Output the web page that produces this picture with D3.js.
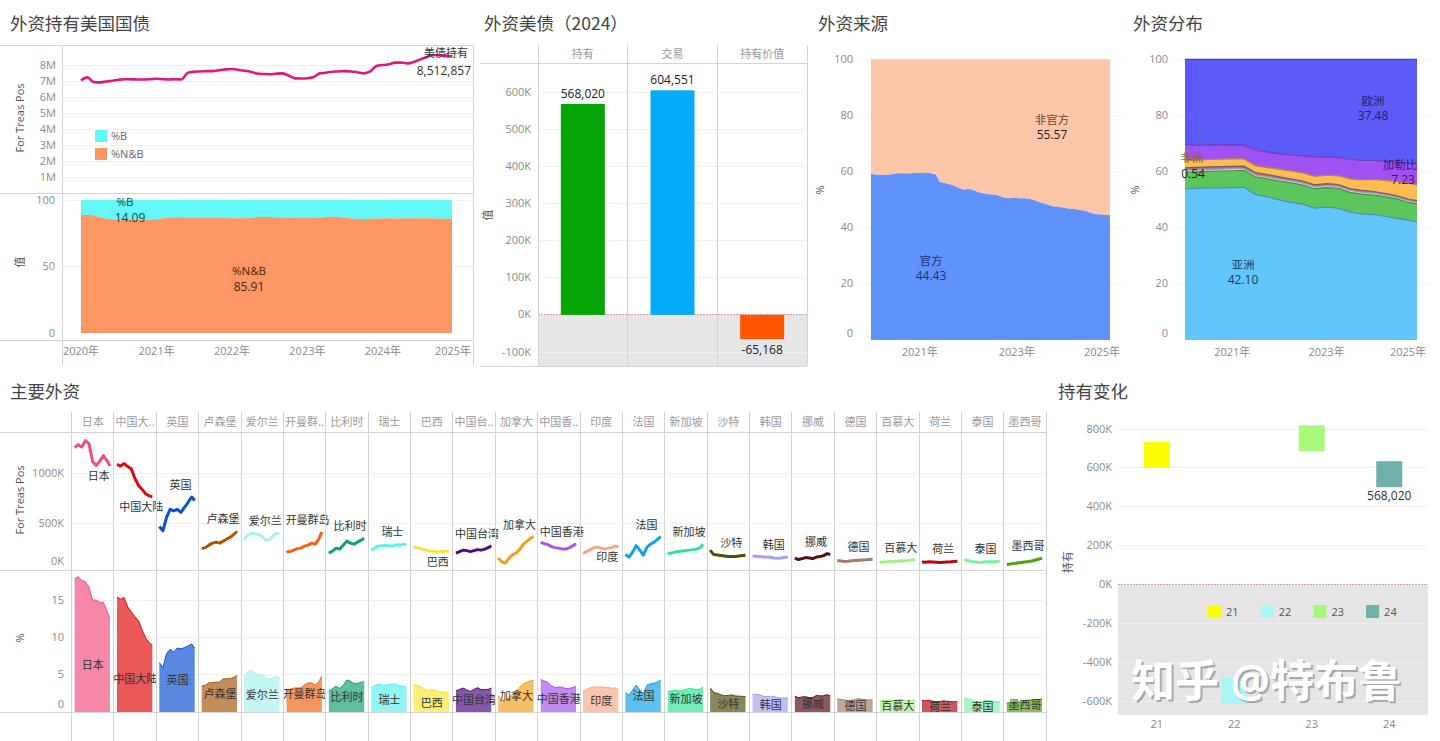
<!DOCTYPE html>
<html lang="zh">
<head>
<meta charset="utf-8">
<title>外资持有美国国债</title>
<script src="https://cdnjs.cloudflare.com/ajax/libs/d3/7.8.5/d3.min.js"></script>
<style>
  body { margin: 0; background: #fff; }
  svg text { font-family: "Open Sans", "Noto Sans CJK SC", sans-serif; }
  .ttl { font-family: "Noto Sans CJK SC", sans-serif; font-size: 17.5px; fill: #444; }
  .tk { font-size: 11px; fill: #8a8a8a; }
  .hdr { font-family: "Noto Sans CJK SC", sans-serif; font-size: 11px; fill: #9a9a9a; }
  .ax { font-size: 11px; fill: #555; }
  .lbl { font-size: 11.5px; fill: #333; }
  .cn { font-family: "Noto Sans CJK SC", sans-serif; font-size: 11px; }
</style>
</head>
<body>
<svg id="dash" width="1440" height="741"></svg>
<script>
// ---------------- data ----------------
const parse = d3.timeParse('%Y-%m');
const months = d3.timeMonth.range(new Date(2020, 0, 1), new Date(2025, 0, 1)); // 2020-01 .. 2024-12

// 外资持有美国国债, M (monthly)
const totalHoldings = [
  7.04, 7.23, 6.95, 6.92, 6.98, 7.02, 7.08, 7.12, 7.11, 7.10, 7.10, 7.12,
  7.15, 7.12, 7.10, 7.12, 7.10, 7.52, 7.58, 7.60, 7.62, 7.62, 7.68, 7.73,
  7.75, 7.70, 7.65, 7.58, 7.47, 7.44, 7.43, 7.46, 7.48, 7.35, 7.17, 7.16,
  7.18, 7.25, 7.48, 7.52, 7.58, 7.60, 7.62, 7.60, 7.55, 7.48, 7.60, 7.94,
  8.00, 8.05, 8.15, 8.15, 8.10, 8.20, 8.35, 8.50, 8.62, 8.60, 8.58, 8.512857
];
// %N&B share (monthly), %B = 100 - %N&B
const pctNB = [
  88.8, 89.0, 88.5, 87.0, 86.0, 85.5, 85.3, 85.2, 85.2, 85.3, 85.2, 85.4,
  85.3, 86.2, 86.8, 86.9, 87.0, 86.9, 86.8, 86.9, 86.7, 86.5, 86.4, 86.4,
  86.3, 86.2, 86.3, 86.6, 87.2, 87.4, 87.2, 86.9, 86.8, 86.7, 86.6, 86.5,
  86.5, 86.6, 86.8, 87.3, 87.5, 87.2, 86.6, 86.0, 85.8, 85.8, 85.9, 86.0,
  86.1, 86.2, 86.0, 86.1, 86.2, 86.3, 86.3, 86.2, 86.1, 86.0, 85.9, 85.91
];

// 外资美债（2024）
const flowCategories = ['持有', '交易', '持有价值'];
const flowValues = [568020, 604551, -65168];

// 外资来源: 官方 share (monthly), 非官方 = 100 - 官方
const officialPct = [
  59.1, 59.0, 58.9, 58.8, 58.8, 59.0, 59.2, 59.4, 59.4, 59.3, 59.4, 59.5,
  59.5, 59.6, 59.6, 59.2, 59.0, 56.3, 56.0, 55.6, 55.3, 54.6, 54.0, 53.5,
  53.8, 53.5, 53.0, 52.5, 52.2, 51.9, 51.8, 51.7, 51.2, 50.7, 50.5, 50.6,
  50.6, 50.4, 50.5, 50.3, 50.0, 49.4, 48.9, 48.5, 48.0, 47.6, 47.5, 47.3,
  47.0, 46.8, 46.7, 46.5, 46.2, 46.0, 45.4, 45.0, 44.8, 44.6, 44.5, 44.43
];

// 外资分布 (quarterly shares, %)
const distDates = ['2020-01','2020-04','2020-07','2020-10','2021-01','2021-04','2021-07','2021-10',
  '2022-01','2022-04','2022-07','2022-10','2023-01','2023-04','2023-07','2023-10',
  '2024-01','2024-04','2024-07','2024-10','2024-12'];
const distRegions = ['亚洲', '中东', '国际组织', '非洲', '拉美', '加勒比', '欧洲'];
const distAsia = [53.8,54.0,54.2,54.2,54.3,54.4,51.8,51.0,49.9,49.0,48.4,47.0,47.3,47.0,45.5,44.9,44.7,44.0,43.3,42.6,42.10];
const distMideast = [5.9,5.9,5.9,6.0,6.0,6.0,6.3,6.4,6.7,7.0,6.8,6.9,7.0,7.0,7.1,7.1,6.9,7.0,6.9,6.4,6.4];
const distIntl = [0.7,0.7,0.7,0.7,0.7,0.7,0.7,0.7,0.7,0.7,0.7,0.7,0.7,0.7,0.7,0.7,0.7,0.6,0.6,0.6,0.6];
const distAfrica = [0.9,0.9,0.9,0.9,0.85,0.85,0.8,0.8,0.8,0.75,0.75,0.7,0.7,0.7,0.65,0.65,0.6,0.6,0.6,0.55,0.54];
const distLatam = [2.6,2.6,2.6,2.6,2.65,2.55,2.4,2.5,2.7,2.75,2.85,3.0,3.0,3.1,3.45,3.65,4.3,4.6,5.0,5.65,5.65];
const distCaribbean = [5.8,5.2,5.2,5.0,5.0,4.9,5.6,5.6,5.5,5.7,6.1,6.9,6.6,6.5,7.0,7.0,6.8,6.9,6.9,7.1,7.23];
const distEurope = [30.3,30.7,30.5,30.6,30.5,30.6,32.4,33.0,33.7,34.1,34.4,34.8,34.7,35.0,35.6,36.0,36.0,36.3,36.7,37.1,37.48];

// 主要外资 (semi-annual, K)
const holdDates = ['2020-01','2020-07','2021-01','2021-07','2022-01','2022-07','2023-01','2023-07','2024-01','2024-07','2024-12'];
const countryNames = ['日本','中国大陆','英国','卢森堡','爱尔兰','开曼群岛','比利时','瑞士','巴西','中国台湾','加拿大',
  '中国香港','印度','法国','新加坡','沙特','韩国','挪威','德国','百慕大','荷兰','泰国','墨西哥'];
const countryHoldings = [
  [1260,1290,1265,1330,1300,1120,1080,1125,1180,1130,1075],
  [1091,1075,1100,1070,1045,950,880,840,795,775,765],
  [468,424,560,640,624,640,610,660,711,764,729],
  [245,255,280,300,310,300,320,340,360,390,420],
  [335,380,400,395,390,370,330,335,370,400,395],
  [210,215,230,245,250,270,280,300,290,340,410],
  [200,220,250,240,280,320,300,290,310,330,350],
  [230,250,270,275,280,275,270,285,280,290,285],
  [265,255,245,235,225,220,215,210,215,220,215],
  [200,215,230,225,215,225,235,230,240,255,275],
  [150,110,100,150,185,200,240,290,320,350,365],
  [308,295,285,265,255,250,240,240,255,275,295],
  [195,215,235,255,260,250,240,250,255,270,262],
  [185,160,210,275,230,180,260,290,310,340,365],
  [195,200,210,215,220,225,230,235,240,255,290],
  [230,185,180,175,170,165,165,165,170,175,178],
  [170,168,165,160,160,158,150,148,150,158,160],
  [150,135,145,155,150,145,160,165,175,195,185],
  [125,120,115,118,122,125,128,130,132,135,138],
  [105,110,112,115,118,118,120,122,125,130,135],
  [110,108,112,110,108,105,108,110,112,115,118],
  [135,125,115,110,105,108,112,115,112,115,118],
  [85,90,95,100,105,110,115,120,130,140,150]
];

// 持有变化
const changeYears = ['21', '22', '23', '24'];
const changeValues = [668000, -545000, 752000, 568020];

// ---------------- styles ----------------
const countryColors = ['#f0507c','#e00a0a','#0a50d2','#a8560e','#a8f2f2','#f26414','#12a172','#5ff0f0','#f4e63a','#4e0a80','#f0a21c',
  '#a456e6','#f8a888','#12a2e6','#2ee494','#4e4e0e','#a2a2f2','#5e0a14','#a07e70','#a0f282','#b00a14','#7ef0a2','#4ea212'];
const distColors = ['#63c6fb', '#5cc65c', '#e8d2e8', '#9a7894', '#fdbd50', '#a152f5', '#5b5bf8'];
const labelBelow = ['日本', '中国大陆', '巴西', '印度'];

// ---------------- helpers ----------------
const svg = d3.select('#dash');
const lineCol = '#d4d4d4';
const fmtComma = v => d3.format(',')(v).replace('\u2212', '-');

function hline(g, x1, x2, y, color, dash) {
  const l = g.append('line').attr('x1', x1).attr('x2', x2).attr('y1', y).attr('y2', y)
    .attr('stroke', color || lineCol).attr('shape-rendering', 'crispEdges');
  if (dash) l.attr('stroke-dasharray', dash);
}
function vline(g, x, y1, y2, color) {
  g.append('line').attr('x1', x).attr('x2', x).attr('y1', y1).attr('y2', y2)
    .attr('stroke', color || lineCol).attr('shape-rendering', 'crispEdges');
}
function title(text, x, y) {
  svg.append('text').attr('class', 'ttl').attr('x', x).attr('y', y).text(text);
}
function rotLabel(g, text, x, y, cls) {
  g.append('text').attr('class', cls || 'ax').attr('text-anchor', 'middle')
    .attr('transform', `translate(${x},${y}) rotate(-90)`).attr('dy', '0.35em').text(text);
}
function grid(g, scale, values, x1, x2, color) {
  values.forEach(v => hline(g, x1, x2, scale(v), color || '#f0f0f0'));
}
function yAxis(g, scale, x, values, fmt, yMin, yMax) {
  const a = g.append('g').attr('transform', `translate(${x},0)`)
    .call(d3.axisLeft(scale).tickValues(values).tickFormat(fmt).tickSize(0).tickPadding(0));
  a.select('.domain').remove();
  a.attr('font-size', null).attr('font-family', null);
  a.selectAll('.tick').attr('transform', d => `translate(0,${Math.max(yMin, Math.min(yMax, scale(d)))})`);
  a.selectAll('text').attr('class', 'tk');
}
function xAxis(g, scale, y, values, fmt, xPos) {
  const a = g.append('g').attr('transform', `translate(0,${y})`)
    .call(d3.axisBottom(scale).tickValues(values).tickFormat(fmt).tickSize(0).tickPadding(0));
  a.select('.domain').remove();
  a.attr('font-size', null).attr('font-family', null);
  a.selectAll('.tick').attr('transform', d => `translate(${xPos(d)},0)`);
  a.selectAll('text').attr('class', 'tk');
}
function textAt(g, str, x, y, color, anchor, size) {
  return g.append('text').attr('x', x).attr('y', y).attr('text-anchor', anchor || 'middle')
    .style('font-size', (size || 11.5) + 'px').style('fill', color || '#333').text(str);
}
const yearTicks = [2020, 2021, 2022, 2023, 2024, 2025].map(y => new Date(y, 0, 1));
const fmtYear = d3.timeFormat('%Y年');

// ================= 外资持有美国国债 =================
title('外资持有美国国债', 10, 30);
const g1 = svg.append('g');
const x1 = d3.scaleTime().domain([months[0], months[59]]).range([81, 452]);
const y1 = d3.scaleLinear().domain([0, 8]).range([194, 65]);
const y1b = d3.scaleLinear().domain([0, 100]).range([333, 200]);

grid(g1, y1, d3.range(1, 9), 62, 473);
grid(g1, y1b, [50, 100], 62, 473);

g1.append('path').datum(pctNB)
  .attr('d', d3.area().x((d, i) => x1(months[i])).y0(y1b(100)).y1(d => y1b(d)))
  .attr('fill', '#63f7f7');
g1.append('path').datum(pctNB)
  .attr('d', d3.area().x((d, i) => x1(months[i])).y0(y1b(0)).y1(d => y1b(d)))
  .attr('fill', '#fc9662');
g1.append('path').datum(totalHoldings)
  .attr('d', d3.line().x((d, i) => x1(months[i])).y(d => y1(d)).curve(d3.curveMonotoneX))
  .attr('fill', 'none').attr('stroke', '#e0187e').attr('stroke-width', 2.6);

hline(g1, 0, 473, 45); hline(g1, 0, 473, 193); hline(g1, 0, 473, 340);
vline(g1, 62, 45, 366); vline(g1, 473, 45, 366);

yAxis(g1, y1, 56, d3.range(1, 9), d => d + 'M', 0, 999);
yAxis(g1, y1b, 55, [0, 50, 100], d => d, 0, 999);
xAxis(g1, x1, 347, yearTicks, fmtYear, d => Math.min(453, x1(d)));
rotLabel(g1, 'For Treas Pos', 20, 118);
rotLabel(g1, '值', 20, 262);

// legend
g1.append('rect').attr('x', 95).attr('y', 130).attr('width', 12).attr('height', 12).attr('fill', '#63f7f7');
g1.append('rect').attr('x', 95).attr('y', 148).attr('width', 12).attr('height', 12).attr('fill', '#fc9662');
textAt(g1, '%B', 111, 140, '#666', 'start', 11);
textAt(g1, '%N&B', 111, 158, '#666', 'start', 11);

const lastTotal = totalHoldings[totalHoldings.length - 1];
const lastNB = pctNB[pctNB.length - 1];
textAt(g1, '美债持有', 468, 57, '#333', 'end', 11).attr('class', 'cn');
textAt(g1, fmtComma(Math.round(lastTotal * 1e6)), 471, 75, '#333', 'end', 12);
textAt(g1, '%B', 125, 206, '#114848');
textAt(g1, d3.format('.2f')(100 - lastNB), 130, 222, '#114848', 'middle', 12);
textAt(g1, '%N&B', 249, 275, '#4a2512');
textAt(g1, d3.format('.2f')(lastNB), 249, 291, '#4a2512', 'middle', 12);

// ================= 外资美债（2024） =================
title('外资美债（2024）', 484, 30);
const g2 = svg.append('g');
const x2 = d3.scaleBand().domain(flowCategories).range([538, 807]);
const y2 = d3.scaleLinear().domain([-100000, 600000]).range([352, 92]);

g2.append('rect').attr('x', 538).attr('y', y2(0)).attr('width', 807 - 538).attr('height', 366 - y2(0)).attr('fill', '#e6e6e6');
grid(g2, y2, [-100000, 100000, 200000, 300000, 400000, 500000, 600000], 538, 807, '#f0f0f0');
hline(g2, 538, 807, y2(0), '#d29a9a', '2,1');

const flowColors = ['#05a505', '#05aaf8', '#ff5500'];
g2.selectAll('rect.bar').data(flowValues).enter().append('rect').attr('class', 'bar')
  .attr('x', (d, i) => x2(flowCategories[i]) + x2.bandwidth() / 2 - 22)
  .attr('y', d => y2(Math.max(0, d)))
  .attr('width', 44)
  .attr('height', d => Math.abs(y2(d) - y2(0)))
  .attr('fill', (d, i) => flowColors[i]);
flowValues.forEach((v, i) => {
  const cx = x2(flowCategories[i]) + x2.bandwidth() / 2;
  textAt(g2, fmtComma(v), cx, v >= 0 ? y2(v) - 6 : y2(v) + 15, '#222', 'middle', 12);
  g2.append('text').attr('class', 'hdr').attr('x', cx).attr('y', 58).attr('text-anchor', 'middle').text(flowCategories[i]);
});
hline(g2, 480, 807, 63);
hline(g2, 480, 807, 366);
[538, 627, 717, 807].forEach(x => vline(g2, x, 45, 366));
yAxis(g2, y2, 531, [-100000, 0, 100000, 200000, 300000, 400000, 500000, 600000], d => (d / 1000) + 'K', 0, 999);
rotLabel(g2, '值', 488, 215);

// ================= 外资来源 =================
title('外资来源', 818, 30);
const g3 = svg.append('g');
const x3 = d3.scaleTime().domain([months[0], months[59]]).range([871, 1110]);
const y3 = d3.scaleLinear().domain([0, 100]).range([340, 59.3]);
grid(g3, y3, [20, 40, 60, 80, 100], 862, 1125, '#f3f3f3');
g3.append('path').datum(officialPct)
  .attr('d', d3.area().x((d, i) => x3(months[i])).y0(y3(100)).y1(d => y3(d)))
  .attr('fill', '#fdc6a9');
g3.append('path').datum(officialPct)
  .attr('d', d3.area().x((d, i) => x3(months[i])).y0(y3(0)).y1(d => y3(d)))
  .attr('fill', '#5f92fb');
yAxis(g3, y3, 853, [0, 20, 40, 60, 80, 100], d => d, 0, 333);
xAxis(g3, x3, 348, [2021, 2023, 2025].map(y => new Date(y, 0, 1)), fmtYear, d => Math.min(1102, x3(d)));
rotLabel(g3, '%', 820, 190);
const lastOff = officialPct[officialPct.length - 1];
textAt(g3, '非官方', 1052, 124, '#6a4535').attr('class', 'cn');
textAt(g3, d3.format('.2f')(100 - lastOff), 1052, 139, '#222', 'middle', 12);
textAt(g3, '官方', 931, 265, '#1c3370').attr('class', 'cn');
textAt(g3, d3.format('.2f')(lastOff), 931, 280, '#1c3370', 'middle', 12);

// ================= 外资分布 =================
title('外资分布', 1133, 30);
const g4 = svg.append('g');
const distSeries = [distAsia, distMideast, distIntl, distAfrica, distLatam, distCaribbean, distEurope];
const distTable = distDates.map((d, i) => {
  const row = { date: parse(d) };
  distRegions.forEach((r, k) => { row[r] = distSeries[k][i]; });
  return row;
});
const stack = d3.stack().keys(distRegions).offset(d3.stackOffsetExpand)(distTable);
const x4 = d3.scaleTime().domain([months[0], months[59]]).range([1185, 1417]);
const y4 = d3.scaleLinear().domain([0, 1]).range([340, 59.3]);
const y4p = d3.scaleLinear().domain([0, 100]).range([340, 59.3]);
grid(g4, y4p, [20, 40, 60, 80, 100], 1175, 1432, '#f3f3f3');
g4.selectAll('path.layer').data(stack).enter().append('path').attr('class', 'layer')
  .attr('d', d3.area().x(d => x4(d.data.date)).y0(d => y4(d[0])).y1(d => y4(d[1])))
  .attr('fill', (d, i) => distColors[i]);
g4.selectAll('path.edge').data(stack).enter().append('path').attr('class', 'edge')
  .attr('d', d3.line().x(d => x4(d.data.date)).y(d => y4(d[1])))
  .attr('fill', 'none').attr('stroke', (d, i) => d3.color(distColors[i]).darker(0.9)).attr('stroke-width', 1.2);
yAxis(g4, y4p, 1168, [0, 20, 40, 60, 80, 100], d => d, 0, 333);
xAxis(g4, x4, 348, [2021, 2023, 2025].map(y => new Date(y, 0, 1)), fmtYear, d => Math.min(1408, x4(d)));
rotLabel(g4, '%', 1135, 190);
const fmt2 = d3.format('.2f');
textAt(g4, '欧洲', 1373, 105, '#232366').attr('class', 'cn');
textAt(g4, fmt2(distEurope[20]), 1373, 120, '#232366', 'middle', 12);
textAt(g4, '加勒比', 1400, 169, '#3a1a5e').attr('class', 'cn');
textAt(g4, fmt2(distCaribbean[20]), 1403, 184, '#3a1a5e', 'middle', 12);
textAt(g4, '非洲', 1192, 162, '#8a6a20').attr('class', 'cn');
textAt(g4, fmt2(distAfrica[20]), 1193, 178, '#222', 'middle', 12);
textAt(g4, '亚洲', 1243, 269, '#1a3a5a').attr('class', 'cn');
textAt(g4, fmt2(distAsia[20]), 1243, 284, '#1a3a5a', 'middle', 12);

// ================= 主要外资 =================
title('主要外资', 10, 398);
const g5 = svg.append('g');
const smX0 = 71.6, smW = 42.37;
const smRight = smX0 + smW * countryNames.length;
const ySm = d3.scaleLinear().domain([0, 1000]).range([573, 473.5]);
const yPct = d3.scaleLinear().domain([0, 15]).range([712, 600.5]);
grid(g5, ySm, [500, 1000], smX0, smRight, '#f0f0f0');
grid(g5, yPct, [5, 10, 15], smX0, smRight, '#f0f0f0');
const totalAt = holdDates.map(d => totalHoldings[d3.timeMonth.count(months[0], parse(d))]);

countryNames.forEach((name, c) => {
  const x0 = smX0 + c * smW;
  const cx = x0 + smW / 2;
  const xs = d3.scaleTime().domain([parse(holdDates[0]), parse(holdDates[holdDates.length - 1])]).range([x0 + 3, x0 + smW - 4]);
  const pts = countryHoldings[c].map((v, i) => ({ d: parse(holdDates[i]), v: v, p: v / (totalAt[i] * 1000) * 100 }));
  const col = countryColors[c];
  const fillCol = d3.interpolateRgb(col, '#ffffff')(0.32);

  g5.append('path').datum(pts)
    .attr('d', d3.area().x(d => xs(d.d)).y0(yPct(0)).y1(d => yPct(d.p)))
    .attr('fill', fillCol);
  g5.append('path').datum(pts)
    .attr('d', d3.line().x(d => xs(d.d)).y(d => yPct(d.p)))
    .attr('fill', 'none').attr('stroke', col).attr('stroke-width', 1);
  g5.append('path').datum(pts)
    .attr('d', d3.line().x(d => xs(d.d)).y(d => ySm(d.v)))
    .attr('fill', 'none').attr('stroke', col).attr('stroke-width', 3).attr('stroke-linejoin', 'round');

  const last = pts[pts.length - 1];
  const lateMax = d3.max(pts.slice(-4), d => d.v);
  const below = labelBelow.includes(name);
  g5.append('text').attr('class', 'cn').attr('text-anchor', 'middle')
    .attr('x', cx + (below ? 6 : 3))
    .attr('y', below ? ySm(last.v) + 14 : ySm(lateMax) - 8)
    .style('fill', '#333').text(name);
  g5.append('text').attr('class', 'cn').attr('text-anchor', 'middle')
    .attr('x', cx).attr('y', yPct(last.p / 2) + 4)
    .style('fill', '#333').text(name);
  g5.append('text').attr('class', 'hdr').attr('text-anchor', 'middle')
    .attr('x', cx).attr('y', 426).text(name.length > 3 ? name.slice(0, 3) + '..' : name);
});
for (let c = 0; c <= countryNames.length; c++) vline(g5, smX0 + c * smW, 412, 741);
hline(g5, 0, smRight, 432); hline(g5, 0, smRight, 570); hline(g5, 0, smRight, 712);
yAxis(g5, ySm, 64, [0, 500, 1000], d => d + 'K', 0, 561);
yAxis(g5, yPct, 64, [0, 5, 10, 15], d => d, 0, 704);
rotLabel(g5, 'For Treas Pos', 20, 500);
rotLabel(g5, '%', 20, 638);

// ================= 持有变化 =================
title('持有变化', 1058, 398);
const g6 = svg.append('g');
const x6 = d3.scaleBand().domain(changeYears).range([1118, 1428]);
const y6 = d3.scaleLinear().domain([-600000, 800000]).range([701.7, 429]);
const changeColors = ['#fcfc00', '#aaf6f6', '#a8f87a', '#6fb1a9'];
g6.append('rect').attr('x', 1118).attr('y', y6(0)).attr('width', 310).attr('height', 715 - y6(0)).attr('fill', '#e5e5e5');
grid(g6, y6, [200000, 400000, 600000, 800000], 1118, 1428, '#f0f0f0');
grid(g6, y6, [-200000, -400000, -600000], 1118, 1428, '#eeeeee');
hline(g6, 1118, 1428, y6(0), '#c9a0a0', '2,1');
g6.selectAll('rect.sq').data(changeValues).enter().append('rect').attr('class', 'sq')
  .attr('x', (d, i) => x6(changeYears[i]) + x6.bandwidth() / 2 - 13)
  .attr('y', d => y6(d) - 13)
  .attr('width', 26).attr('height', 26)
  .attr('fill', (d, i) => changeColors[i]);
const lastChange = changeValues[changeValues.length - 1];
textAt(g6, fmtComma(lastChange), x6(changeYears[3]) + x6.bandwidth() / 2, y6(lastChange) + 26, '#333', 'middle', 12);
yAxis(g6, y6, 1112, [-600000, -400000, -200000, 0, 200000, 400000, 600000, 800000], d => (d / 1000) + 'K', 0, 999);
xAxis(g6, x6, 720, changeYears, d => d, d => x6(d) + x6.bandwidth() / 2);
rotLabel(g6, '持有', 1068, 562);
changeYears.forEach((yr, i) => {
  const lx = 1208 + i * 52.7;
  g6.append('rect').attr('x', lx).attr('y', 605).attr('width', 13).attr('height', 13).attr('fill', changeColors[i]);
  textAt(g6, yr, lx + 18, 616, '#555', 'start', 11);
});
// watermark
const wm = svg.append('g').style('font-family', '"Noto Sans CJK SC", sans-serif').style('font-weight', 'bold').style('font-size', '44px');
wm.append('text').attr('x', 1133).attr('y', 699).style('fill', '#777').style('opacity', 0.55).text('知乎 @特布鲁');
wm.append('text').attr('x', 1131).attr('y', 697).style('fill', '#ffffff').text('知乎 @特布鲁');
</script>
</body>
</html>
